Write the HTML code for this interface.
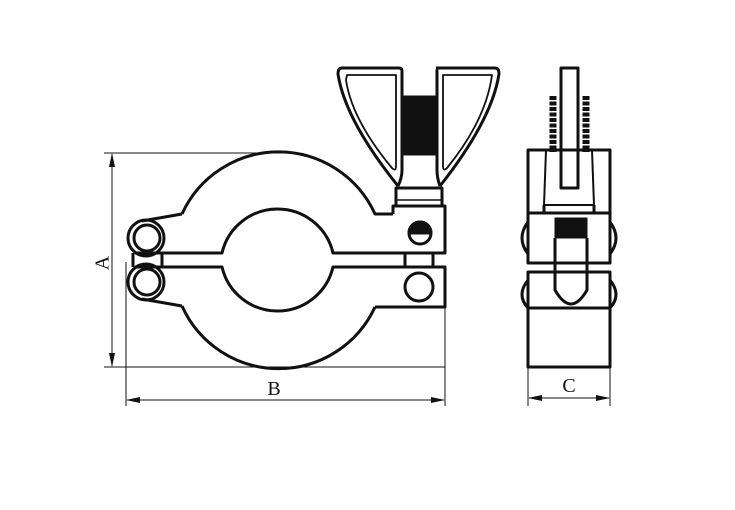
<!DOCTYPE html>
<html><head><meta charset="utf-8"><style>
html,body{margin:0;padding:0;background:#fff;width:735px;height:510px;overflow:hidden}
svg{display:block}
text{font-family:"Liberation Serif",serif;font-size:20px;fill:#111}
</style></head><body>
<svg width="735" height="510" viewBox="0 0 735 510" xmlns="http://www.w3.org/2000/svg">
<defs>
<marker id="ar" markerWidth="14" markerHeight="6" refX="13" refY="3" orient="auto" markerUnits="userSpaceOnUse">
<path d="M0,0 L14,3 L0,6 Z" fill="#111"/></marker>
</defs>
<g fill="none" stroke="#111" stroke-width="1">
<line x1="104" y1="153" x2="282" y2="153"/>
<line x1="104" y1="367" x2="445" y2="367"/>
<line x1="112" y1="180" x2="112" y2="340"/>
<line x1="112" y1="180" x2="112" y2="154" marker-end="url(#ar)"/>
<line x1="112" y1="340" x2="112" y2="366" marker-end="url(#ar)"/>
<line x1="126" y1="262" x2="126" y2="406"/>
<line x1="445" y1="300" x2="445" y2="406"/>
<line x1="150" y1="400" x2="127" y2="400" marker-end="url(#ar)"/>
<line x1="150" y1="400" x2="420" y2="400"/>
<line x1="420" y1="400" x2="444" y2="400" marker-end="url(#ar)"/>
<line x1="528" y1="360" x2="528" y2="406"/>
<line x1="610" y1="360" x2="610" y2="406"/>
<line x1="550" y1="398" x2="529" y2="398" marker-end="url(#ar)"/>
<line x1="550" y1="398" x2="590" y2="398"/>
<line x1="590" y1="398" x2="609" y2="398" marker-end="url(#ar)"/>
</g>
<text x="104" y="263" transform="rotate(-90 104 263)" text-anchor="middle" dominant-baseline="middle">A</text>
<text x="274" y="395" text-anchor="middle">B</text>
<text x="569" y="392" text-anchor="middle">C</text>

<g fill="none" stroke="#111" stroke-width="3" stroke-linejoin="round">
<path d="M182,214 A106,106 0 0 1 375,214 L393,214"/>
<path d="M182,214 L142,221"/>
<path d="M135,253 L222,253 A57,57 0 0 1 333,253 L445,253 L445,206 L393,206 L393,214"/>
<rect x="396" y="188" width="46" height="18" fill="#fff"/>
<path d="M396,200 L442,200" stroke-width="1.5"/>
<circle cx="146" cy="238" r="18"/>
<circle cx="147" cy="238" r="13"/>
<circle cx="420" cy="233" r="11"/>
<path d="M409,233 L431,233" stroke-width="2"/>
<path d="M409,233 A11,11 0 0 1 431,233 Z" fill="#111"/>
<path d="M133,253 L133,267 M162,253 L162,267 M405,253 L405,267 M433,253 L433,267"/>
<path d="M135,267 L222,267 A57,57 0 0 0 333,267 L445,267 L445,307 L375,307"/>
<path d="M182,306 A106,106 0 0 0 375,307"/>
<path d="M182,306 L142,299"/>
<circle cx="146" cy="282" r="18"/>
<circle cx="147" cy="282" r="13"/>
<circle cx="419" cy="287" r="14"/>
<path d="M342,68 L399,68 Q402,68 402,71 L402,170 Q402,178 398,186 M342,68 Q338,68 338,74 Q345,120 398,186"/>
<path d="M347,75 L396,75 L396,166 Q396,172 392,168 Q352,120 346,80 Z" stroke-width="1.8"/>
<path d="M436,68 L495,68 Q499,68 499,74 Q492,120 440,186 M436,68 Q437,68 437,71 L437,170 Q437,178 440,186"/>
<path d="M443,75 L492,75 Q486,120 447,168 Q443,172 443,166 Z" stroke-width="1.8"/>
<rect x="404" y="96" width="32" height="59" fill="#111" stroke-width="1"/>
<path d="M553,96 L553,152 M586,96 L586,152" stroke-width="7" stroke-dasharray="4,1.5"/>
<rect x="561" y="68" width="17" height="120" fill="#fff"/>
<rect x="528" y="150" width="82" height="63" fill="none"/>
<path d="M546,150 L544,205 L594,205 L592,150" stroke-width="2"/>
<path d="M544,205 L544,213 M594,205 L594,213"/>
<rect x="528" y="213" width="82" height="50"/>
<rect x="555" y="218" width="32" height="20" fill="#111" stroke-width="1"/>
<path d="M555,238 L555,263 M587,238 L587,263"/>
<path d="M528,222 Q516,238 528,254 M610,222 Q622,238 610,254"/>
<rect x="528" y="272" width="82" height="36"/>
<path d="M555,263 L555,272 M587,263 L587,272"/>
<path d="M555,272 L555,290 Q571,318 587,290 L587,272"/>
<path d="M528,280 Q516,295 528,308 M610,280 Q622,295 610,308"/>
<rect x="528" y="308" width="82" height="59"/>
</g>
</svg>
</body></html>
